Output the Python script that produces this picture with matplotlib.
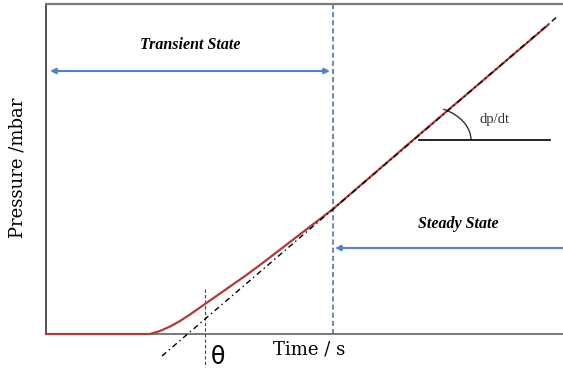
import matplotlib
matplotlib.use('Agg')
import matplotlib.pyplot as plt
from matplotlib.patches import Arc

# pressure build-up curve (arbitrary units)
time = [0, 104, 114, 124, 134, 144, 159, 169, 184, 199, 214, 244, 287, 334, 374, 434, 502]
pressure = [0, 0, 3, 7.5, 13, 19.5, 30, 37, 47.5, 58, 69, 92, 125, 165.5, 200, 251, 309]

# steady-state asymptote (dash-dot)
tangent_t = [116, 512]
tangent_p = [-22, 318]

theta_t = 159        # time lag intercept marker
boundary_t = 287     # transient / steady boundary

red = '#b23a36'
blue = '#4f82c6'

fig = plt.figure(figsize=(5.63, 3.74), dpi=100)
ax = fig.add_axes([46 / 563, 40 / 374, 517 / 563, 330 / 374])
ax.set_xlim(0, 517)
ax.set_ylim(0, 330)
ax.set_xticks([])
ax.set_yticks([])
ax.spines['right'].set_visible(False)
ax.spines['top'].set_color('#7a7a7a')
ax.spines['top'].set_linewidth(1.6)
ax.spines['left'].set_color('#222222')
ax.spines['left'].set_linewidth(1.1)
ax.spines['bottom'].set_color('#555555')
ax.spines['bottom'].set_linewidth(1.1)

# data curve and asymptote
ax.plot(time, pressure, color=red, lw=1.6, zorder=5, clip_on=False,
        solid_joinstyle='round')
ax.plot(tangent_t, tangent_p, color='black', lw=1.0,
        ls=(0, (4, 2.5, 1, 2.5)), zorder=6, clip_on=False)

# markers
ax.plot([theta_t, theta_t], [45, -33], color='#444444', lw=0.8,
        ls=(0, (3, 2)), clip_on=False)
ax.axvline(boundary_t, color=blue, lw=1.3, ls=(0, (2.8, 1.7)))

# state arrows
ax.annotate('', xy=(4, 263), xytext=(284, 263),
            arrowprops=dict(arrowstyle='<|-|>', color=blue, lw=1.5,
                            mutation_scale=8, shrinkA=0, shrinkB=0))
ax.annotate('', xy=(289, 86), xytext=(530, 86), annotation_clip=False,
            arrowprops=dict(arrowstyle='-|>', color=blue, lw=1.5,
                            mutation_scale=8, shrinkA=0, shrinkB=0))

ax.text(144, 289, 'Transient State', ha='center', va='center',
        fontsize=11.5, family='Liberation Serif', style='italic', weight='bold')
ax.text(412, 110, 'Steady State', ha='center', va='center',
        fontsize=11.5, family='Liberation Serif', style='italic', weight='bold')

# slope annotation
ax.plot([373, 504], [194, 194], color='black', lw=1.2)
ax.add_patch(Arc((373, 194), 104, 70, theta1=0, theta2=52,
                 color='#333333', lw=1.0))
ax.text(449, 215, 'dp/dt', ha='center', va='center', fontsize=10.5,
        family='Liberation Serif', color='#333333')

# axis labels
ax.text(263, -15, 'Time / s', ha='center', va='center', fontsize=13,
        family='DejaVu Serif', clip_on=False)
ax.text(-28, 166, 'Pressure /mbar', ha='center', va='center', fontsize=13,
        family='DejaVu Serif', rotation=90, clip_on=False)
ax.text(172, -23, 'θ', ha='center', va='center', fontsize=17, clip_on=False)

fig.savefig('out.png', dpi=100)
